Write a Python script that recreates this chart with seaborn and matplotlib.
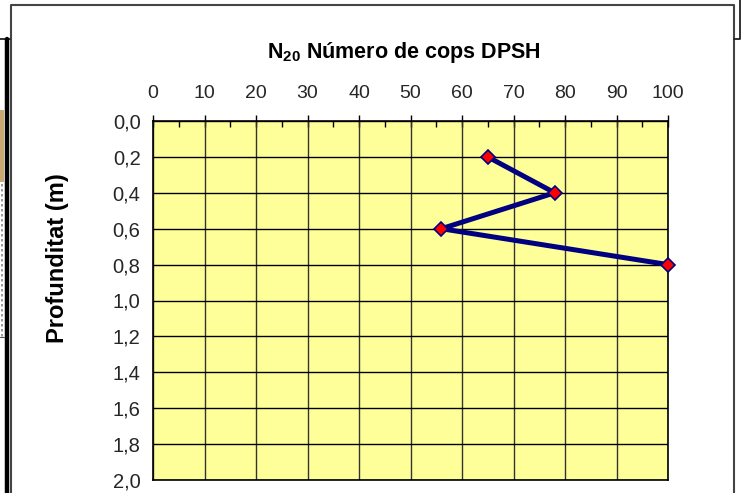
import matplotlib
matplotlib.use("Agg")
import matplotlib.pyplot as plt
from matplotlib.lines import Line2D
from matplotlib.patches import Rectangle
from matplotlib.ticker import MultipleLocator, FuncFormatter
import seaborn as sns
import pandas as pd

# DPSH penetration test: blow counts N20 per 0.2 m of depth
depth_m = [0.2, 0.4, 0.6, 0.8]
n20_blows = [65, 78, 56, 100]
x_ticks = [0, 10, 20, 30, 40, 50, 60, 70, 80, 90, 100]
y_ticks = [0.0, 0.2, 0.4, 0.6, 0.8, 1.0, 1.2, 1.4, 1.6, 1.8, 2.0]

sns.set_theme(style="white")
plt.rcParams["font.family"] = ["Liberation Sans", "DejaVu Sans"]
plt.rcParams["mathtext.fontset"] = "custom"
plt.rcParams["mathtext.rm"] = "Liberation Sans"
plt.rcParams["mathtext.bf"] = "Liberation Sans:bold"

df = pd.DataFrame({"N20": n20_blows, "Profunditat": depth_m})

fig = plt.figure(figsize=(7.42, 4.93), dpi=100)
fig.patch.set_facecolor("white")
ax = fig.add_axes([153 / 742, 1 - 480 / 493, (668 - 153) / 742, (480 - 121) / 493])
ax.set_facecolor("#FFFF99")

# grid
for xv in x_ticks:
    ax.axvline(xv, color="#333333", lw=1.0, zorder=1)
for yv in y_ticks:
    ax.axhline(yv, color="#000000", lw=1.0, zorder=1)

sns.lineplot(data=df, x="N20", y="Profunditat", sort=False, ax=ax,
             color="#000080", lw=3.6, marker="D", markersize=7,
             markerfacecolor="#FF0000", markeredgecolor="#000080",
             markeredgewidth=1.2, zorder=3, clip_on=False)

ax.set_xlim(0, 100)
ax.set_ylim(2.0, 0.0)
ax.xaxis.set_ticks_position("top")
ax.xaxis.set_label_position("top")
ax.set_xticks(x_ticks)
ax.xaxis.set_minor_locator(MultipleLocator(5))
ax.set_yticks(y_ticks)
ax.yaxis.set_major_formatter(FuncFormatter(lambda v, p: f"{v:.1f}".replace(".", ",")))
ax.tick_params(axis="x", which="major", direction="inout", length=9, width=1,
               color="black", labelsize=14, pad=9)
ax.tick_params(axis="x", which="minor", direction="in", length=4, width=1, color="black")
ax.tick_params(axis="y", which="major", direction="out", length=6, width=1,
               color="black", labelsize=14.5, pad=3)
for s in ax.spines.values():
    s.set_color("black")
    s.set_linewidth(1.2)
    s.set_visible(True)

ax.set_xlabel("")
ax.set_ylabel("Profunditat (m)", fontsize=17, fontweight="bold", color="black")
ax.yaxis.set_label_coords((69 - 153) / 515, (480 - 258) / 359)
ttl = ax.set_title(r"N$_{\mathbf{20}}$ Número de cops DPSH", fontsize=15.5,
                   fontweight="bold", color="black", pad=0,
                   y=(480 - 121 + 63) / 359)
ttl.set_x((404 - 153) / 515)

# chart frame and neighbouring boxes
def fline(xs, ys, **kw):
    fig.add_artist(Line2D([x / 742 for x in xs], [1 - y / 493 for y in ys],
                          transform=fig.transFigure, **kw))

fline([11, 11, 734, 734], [493, 5, 5, 493], color="#444444", lw=1.5)
fline([734, 740, 740], [39, 39, 0], color="#222222", lw=1.3)
fline([0, 10], [39, 39], color="#222222", lw=1.3)
fline([7, 7], [39, 493], color="black", lw=3.2)
fig.add_artist(Rectangle((0, 1 - 182 / 493), 4 / 742, 72 / 493,
                         transform=fig.transFigure, color="#C9A874", lw=0))
fline([2, 2], [184, 337], color="#888888", lw=1.2, ls=(0, (1.5, 1.5)))
fline([0, 4], [337, 337], color="#555555", lw=0.8)

fig.savefig("out.png", dpi=100)
